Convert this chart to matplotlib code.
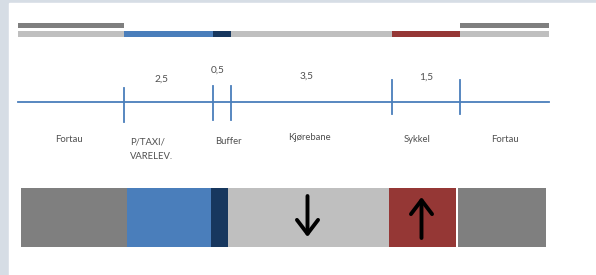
import matplotlib
matplotlib.use('Agg')
import matplotlib.pyplot as plt
from matplotlib.patches import Rectangle
import numpy as np

# zones across the street section (left to right)
zones = ['Fortau', 'P/TAXI/\nVARELEV.', 'Buffer', 'Kjørebane', 'Sykkel', 'Fortau']
width_labels = ['', '2,5', '0,5', '3,5', '1,5', '']
zone_colors = ['#7f7f7f', '#4a7ebb', '#17375e', '#bfbfbf', '#953735', '#7f7f7f']
strip_colors = ['#bfbfbf', '#4a7ebb', '#17375e', '#bfbfbf', '#953735', '#bfbfbf']
# drawn widths (pixel units)
strip_w = [106, 89, 18, 161, 68, 89]
box_w = [106, 84, 17, 161, 67, 88]
box_gap = [0, 0, 0, 0, 0, 2]
directions = [None, None, None, 'down', 'up', None]

plt.rcParams['font.family'] = ['Lato', 'DejaVu Sans']

fig = plt.figure(figsize=(5.96, 2.75), dpi=100, facecolor='#d6dde5')
ax = fig.add_axes([0, 0, 1, 1])
ax.set_xlim(0, 596)
ax.set_ylim(275, 0)
ax.axis('off')
ax.add_patch(Rectangle((9, 3), 590, 275, color='white', zorder=0))

# top strip
x0 = 18
edges = x0 + np.concatenate([[0], np.cumsum(strip_w)])
ax.barh(34, strip_w, left=edges[:-1], height=6, color=strip_colors, zorder=2)
ax.barh(25.5, [strip_w[0], strip_w[-1]], left=[edges[0], edges[-2]], height=5,
        color='#7f7f7f', zorder=2)

# dimension line
blue = '#4a7ebb'
ax.plot([edges[0], edges[-1]], [102, 102], color=blue, lw=1.3, zorder=2)
tick_top = [88, 86, 86, 80, 80]
for e, t in zip(edges[1:-1], tick_top):
    ax.plot([e, e], [t, t + 34], color=blue, lw=1.3, zorder=2)

txt = '#505050'
num_dx = [0, -7, -4, -5, 0, 0]
num_y = [0, 79, 70, 76, 77, 0]
centers = (edges[:-1] + edges[1:]) / 2
for c, lab, dx, y in zip(centers, width_labels, num_dx, num_y):
    if lab:
        ax.text(c + dx, y, lab, ha='center', va='center', fontsize=7.3, color=txt)

name_dx = [-2, 0, 6, -2, -9, 0]
name_y = [140, 149, 141, 137, 139, 139]
for i, (c, lab, dx, y) in enumerate(zip(centers, zones, name_dx, name_y)):
    if '\n' in lab:
        ax.text(edges[i] + 6, y, lab, ha='left', va='center', fontsize=6.8,
                color=txt, linespacing=1.75)
    else:
        ax.text(c + dx, y, lab, ha='center', va='center', fontsize=6.8, color=txt)

# cross-section boxes
bx0 = 21
lefts = bx0 + np.cumsum([0] + box_w[:-1]) + np.array(box_gap)
ax.barh(217.5, box_w, left=lefts, height=59, color=zone_colors, zorder=2)
for l, w, d in zip(lefts, box_w, directions):
    if d is None:
        continue
    cx = l + w / 2 - 1
    y0, y1 = (196, 237) if d == 'down' else (238, 197)
    ax.annotate('', xy=(cx, y1), xytext=(cx, y0),
                arrowprops=dict(arrowstyle='->,head_length=0.5,head_width=0.38',
                                lw=2.8, color='black', mutation_scale=20,
                                shrinkA=0, shrinkB=0), zorder=3)

fig.savefig('out.png', dpi=100, facecolor=fig.get_facecolor())
